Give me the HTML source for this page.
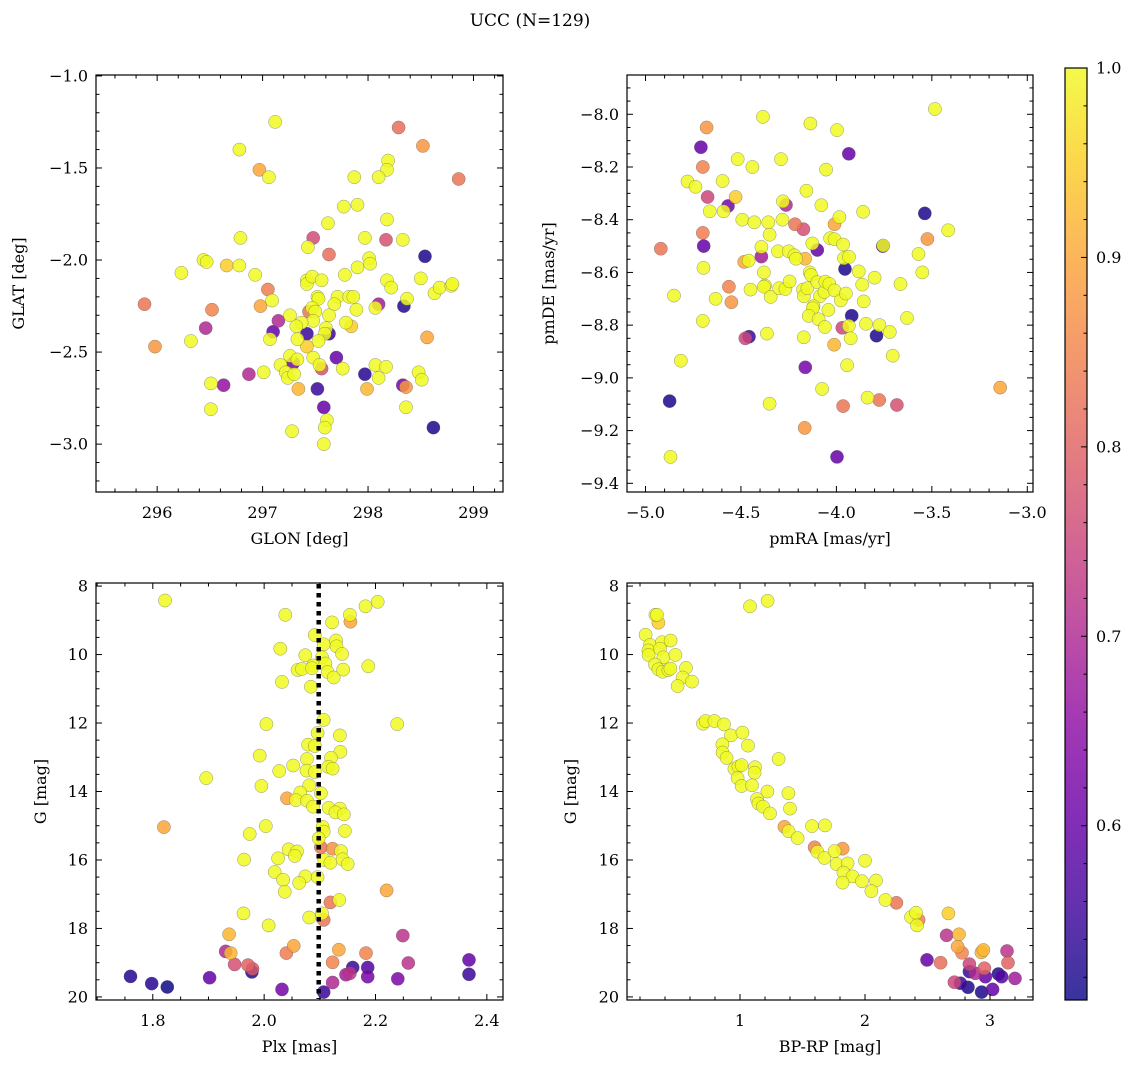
<!DOCTYPE html>
<html><head><meta charset="utf-8">
<style>
html,body{margin:0;padding:0;background:#fff;}
svg{display:block;font-family:"DejaVu Serif","Liberation Serif",serif;}
</style></head>
<body>
<svg id="fig" xmlns="http://www.w3.org/2000/svg" width="1136" height="1068" viewBox="0 0 1136 1068">
<defs>
<linearGradient id="plasmaGrad" x1="0" y1="1" x2="0" y2="0">
<stop offset="0" stop-color="#0d0887"/><stop offset="0.1" stop-color="#41049d"/><stop offset="0.2" stop-color="#6a00a8"/><stop offset="0.3" stop-color="#8f0da4"/><stop offset="0.4" stop-color="#b12a90"/><stop offset="0.5" stop-color="#cc4778"/><stop offset="0.6" stop-color="#e16462"/><stop offset="0.7" stop-color="#f2844b"/><stop offset="0.8" stop-color="#fca636"/><stop offset="0.9" stop-color="#fcce25"/><stop offset="1" stop-color="#f0f921"/>
</linearGradient>
</defs>
<text x="530" y="26" text-anchor="middle" font-size="17">UCC (N=129)</text>
</svg>
<script>
// ---- Panel 1: GLON vs GLAT ----
const tlGlon = [297.12,298.29,298.52,296.78,296.97,297.06,298.19,298.18,298.10,298.86,297.87,297.77,297.90,297.62,298.18,296.79,297.48,297.43,297.97,298.17,298.33,297.63,298.54,296.44,296.47,296.23,296.66,296.78,296.93,297.05,295.88,296.52,296.98,297.09,297.42,297.42,297.47,297.56,297.78,297.90,298.01,298.02,298.18,298.22,298.50,298.63,298.68,298.79,298.80,298.37,298.34,298.10,298.07,297.52,297.53,297.71,297.82,297.86,297.68,297.89,297.44,297.47,297.50,297.63,297.48,297.26,297.15,297.37,297.32,297.10,297.42,297.63,297.60,297.59,297.79,297.84,296.46,296.32,295.98,297.07,297.33,297.53,297.42,298.56,297.26,297.33,297.29,297.48,297.70,297.54,297.56,297.17,297.22,297.24,297.30,297.01,296.87,297.76,297.97,298.07,298.17,298.10,298.48,298.51,298.33,298.36,297.99,297.52,297.34,296.63,296.51,296.51,297.58,297.61,297.59,297.28,297.58,298.36,298.62];
const tlGlat = [-1.25,-1.28,-1.38,-1.40,-1.51,-1.55,-1.46,-1.51,-1.55,-1.56,-1.55,-1.71,-1.70,-1.80,-1.78,-1.88,-1.88,-1.93,-1.88,-1.89,-1.89,-1.97,-1.98,-2.00,-2.01,-2.07,-2.03,-2.03,-2.08,-2.16,-2.24,-2.27,-2.25,-2.22,-2.11,-2.13,-2.09,-2.11,-2.08,-2.04,-1.99,-2.02,-2.11,-2.15,-2.10,-2.18,-2.15,-2.14,-2.13,-2.21,-2.25,-2.24,-2.26,-2.20,-2.21,-2.20,-2.20,-2.20,-2.24,-2.27,-2.28,-2.26,-2.28,-2.30,-2.33,-2.30,-2.33,-2.34,-2.36,-2.39,-2.40,-2.40,-2.37,-2.40,-2.34,-2.36,-2.37,-2.44,-2.47,-2.43,-2.43,-2.44,-2.47,-2.42,-2.52,-2.54,-2.56,-2.53,-2.53,-2.57,-2.59,-2.57,-2.61,-2.64,-2.62,-2.61,-2.62,-2.59,-2.62,-2.57,-2.58,-2.64,-2.61,-2.65,-2.68,-2.69,-2.70,-2.70,-2.70,-2.68,-2.67,-2.81,-2.80,-2.87,-2.91,-2.93,-3.00,-2.80,-2.91];
const tlProb = [1,.82,.88,1,.9,1,1,1,1,.83,1,1,1,1,1,1,.76,1,1,.77,1,.82,.52,1,1,1,.95,1,1,.84,.83,.85,.9,1,1,1,1,1,1,1,1,1,1,1,1,1,1,1,1,1,.53,.68,1,1,1,1,1,1,1,1,.83,1,1,1,1,1,.7,1,1,.6,.55,.55,1,1,1,.95,.7,1,.88,1,1,1,.95,.9,1,1,.62,1,.6,1,.77,1,1,1,1,1,.7,1,.53,1,1,1,1,1,.62,.88,.92,.55,.92,.66,1,1,.6,1,1,1,1,1,.52];
const tlXTicks = [296,297,298,299];
const tlYTicks = [-3.0,-2.5,-2.0,-1.5,-1.0];

// ---- Panel 2: pmRA vs pmDE ----
const trPmra = [-3.484,-4.385,-4.68,-4.136,-3.997,-4.71,-3.935,-4.70,-4.517,-4.44,-4.29,-4.054,-4.78,-4.738,-4.596,-4.675,-4.528,-4.568,-4.663,-4.591,-4.28,-4.264,-4.157,-4.079,-3.86,-3.537,-3.414,-3.523,-4.493,-4.43,-4.357,-4.35,-4.283,-4.217,-4.173,-4.01,-3.984,-4.70,-4.695,-4.92,-4.393,-4.306,-4.25,-4.22,-4.212,-4.164,-4.126,-4.10,-4.033,-4.01,-3.965,-3.757,-3.755,-3.57,-4.483,-4.46,-4.393,-3.96,-3.934,-3.955,-4.696,-4.38,-3.55,-3.883,-3.80,-4.563,-4.55,-4.851,-4.633,-4.45,-4.374,-4.38,-4.344,-4.30,-4.267,-4.245,-4.175,-4.17,-4.152,-4.14,-4.133,-4.10,-4.086,-4.063,-4.058,-4.037,-4.01,-3.977,-3.95,-3.865,-3.857,-3.664,-4.12,-4.124,-4.042,-4.145,-4.093,-4.06,-4.70,-3.92,-3.969,-3.935,-3.925,-3.845,-3.774,-3.72,-3.63,-3.79,-4.458,-4.477,-4.364,-4.171,-4.012,-3.944,-3.705,-4.815,-4.163,-4.075,-3.837,-3.776,-3.683,-3.965,-3.142,-4.874,-4.35,-4.166,-4.869,-3.997];
const trPmde = [-7.98,-8.01,-8.05,-8.035,-8.06,-8.125,-8.15,-8.20,-8.17,-8.20,-8.17,-8.21,-8.255,-8.275,-8.253,-8.314,-8.314,-8.348,-8.368,-8.368,-8.33,-8.344,-8.29,-8.345,-8.37,-8.376,-8.44,-8.473,-8.40,-8.41,-8.41,-8.457,-8.40,-8.417,-8.436,-8.417,-8.39,-8.45,-8.50,-8.51,-8.503,-8.52,-8.52,-8.535,-8.548,-8.548,-8.49,-8.515,-8.47,-8.474,-8.494,-8.50,-8.498,-8.53,-8.56,-8.555,-8.54,-8.546,-8.541,-8.587,-8.583,-8.60,-8.60,-8.596,-8.62,-8.654,-8.713,-8.688,-8.70,-8.665,-8.65,-8.654,-8.693,-8.66,-8.663,-8.634,-8.665,-8.69,-8.66,-8.60,-8.61,-8.637,-8.69,-8.674,-8.635,-8.643,-8.668,-8.706,-8.68,-8.646,-8.71,-8.644,-8.728,-8.736,-8.742,-8.765,-8.778,-8.807,-8.784,-8.764,-8.81,-8.803,-8.85,-8.795,-8.80,-8.826,-8.773,-8.84,-8.844,-8.85,-8.832,-8.846,-8.874,-8.952,-8.916,-8.935,-8.96,-9.042,-9.075,-9.084,-9.103,-9.107,-9.037,-9.088,-9.098,-9.19,-9.30,-9.30];
const trProb = [1,1,.88,1,1,.6,.6,.85,1,1,1,1,1,1,1,.75,.95,.62,1,1,1,.7,1,1,1,.52,1,.88,1,1,1,1,1,.83,.77,.9,1,.84,.6,.83,1,1,1,1,1,.92,1,.6,1,1,1,.55,1,1,.9,1,.68,1,1,.52,1,1,1,1,1,.85,.88,1,1,1,1,1,1,1,1,1,1,1,1,1,1,1,1,1,1,1,1,1,1,1,1,1,1,1,1,1,1,1,1,.52,.75,1,1,1,1,1,1,.52,.55,.75,1,1,.92,1,1,1,.62,1,1,.83,.77,.83,.9,.52,1,.88,1,.6];
const trXTicks = [-5.0,-4.5,-4.0,-3.5,-3.0];
const trYTicks = [-9.4,-9.2,-9.0,-8.8,-8.6,-8.4,-8.2,-8.0];

// ---- Panel 3: Plx vs G ----
const blPlx = [1.822,2.038,2.154,2.155,2.182,2.204,2.122,2.091,2.107,2.129,2.130,2.140,2.029,2.074,2.104,2.088,2.060,2.068,2.086,2.110,2.114,2.125,2.142,2.187,2.032,2.084,2.004,2.239,2.107,2.096,2.136,2.079,2.091,1.992,2.137,2.120,2.077,2.052,2.027,2.076,2.091,2.115,2.123,1.896,1.995,2.081,2.065,2.102,2.041,2.057,2.077,2.088,2.116,2.136,2.128,2.143,1.820,2.003,1.974,2.105,2.107,2.145,2.098,2.102,2.123,2.138,2.044,2.059,2.055,2.025,1.964,2.108,2.119,2.141,2.150,2.019,2.034,2.074,2.063,2.096,2.037,2.220,2.119,2.135,1.963,2.104,2.081,2.107,2.008,1.937,2.249,2.053,2.134,2.183,2.040,1.931,1.940,2.368,2.259,2.123,1.947,1.971,1.979,1.978,1.760,1.798,1.826,1.902,2.032,2.107,2.123,2.147,2.154,2.159,2.186,2.186,2.240,2.368];
const blG = [8.42,8.84,8.84,9.04,8.59,8.46,9.06,9.43,9.70,9.59,9.76,9.98,9.83,10.02,10.08,10.32,10.45,10.42,10.40,10.26,10.51,10.67,10.44,10.34,10.80,10.94,12.03,12.03,11.91,12.29,12.36,12.63,12.67,12.95,12.84,13.02,13.05,13.24,13.40,13.39,13.43,13.28,13.33,13.61,13.84,13.82,14.03,14.05,14.20,14.25,14.27,14.44,14.48,14.50,14.61,14.67,15.04,15.01,15.24,15.03,15.17,15.15,15.37,15.63,15.67,15.74,15.69,15.75,15.88,15.95,15.99,16.00,16.08,15.98,16.12,16.35,16.58,16.48,16.67,16.50,16.93,16.89,17.24,17.17,17.56,17.56,17.68,17.75,17.91,18.17,18.21,18.51,18.62,18.72,18.72,18.67,18.72,18.92,19.01,18.99,19.05,19.07,19.18,19.27,19.40,19.61,19.71,19.44,19.78,19.86,19.58,19.35,19.31,19.14,19.14,19.41,19.47,19.34];
const blProb = [1,1,1,.9,1,1,1,1,1,1,1,1,1,1,1,1,1,1,1,1,1,1,1,1,1,1,1,1,1,1,1,1,1,1,1,1,1,1,1,1,1,1,1,1,1,1,1,1,.9,1,1,1,1,1,1,1,.9,1,1,1,1,1,1,.83,.87,1,1,1,1,1,1,1,1,1,1,1,1,1,1,1,1,.9,.83,1,1,1,1,.83,1,.92,.72,.9,.9,.85,.84,.7,.92,.6,.72,.85,.77,.8,.78,.53,.53,.53,.5,.6,.62,.55,.7,.68,.72,.55,.58,.62,.63,.55];
const blXTicks = [1.8,2.0,2.2,2.4];
const gTicks = [8,10,12,14,16,18,20];
const plxRef = 2.098;

// ---- Panel 4: BP-RP vs G ----
const brColor = [1.08,1.221,0.323,0.336,0.347,0.245,0.28,0.267,0.269,0.376,0.445,0.36,0.387,0.483,0.32,0.347,0.381,0.427,0.443,0.568,0.541,0.616,0.501,0.704,0.725,0.795,0.872,0.928,1.019,1.064,0.859,0.861,0.893,1.309,0.955,0.987,1.013,1.12,1.117,0.981,1.013,1.096,1.219,1.387,1.136,1.147,1.184,1.24,1.40,1.355,1.389,1.461,1.576,1.68,1.597,1.619,1.675,1.757,1.821,1.773,1.861,2.00,1.827,1.901,1.976,1.821,2.088,2.051,2.163,2.251,2.429,2.368,2.408,2.416,2.667,2.653,2.752,2.741,2.776,2.931,2.947,3.136,2.496,2.605,2.835,3.144,2.835,2.955,2.883,2.963,3.067,3.093,3.20,2.715,2.763,2.824,2.933,3.021];
const brG = [8.59,8.43,8.84,8.84,9.07,9.42,9.72,9.88,10.01,9.64,9.59,9.83,10.08,10.01,10.29,10.43,10.50,10.45,10.41,10.39,10.67,10.79,10.92,12.02,11.94,11.94,12.04,12.36,12.28,12.66,12.62,12.86,13.02,13.05,13.34,13.27,13.23,13.29,13.45,13.61,13.84,13.82,14.00,14.05,14.22,14.35,14.44,14.64,14.50,15.03,15.16,15.36,15.01,14.99,15.63,15.76,15.94,15.74,15.67,16.12,16.10,16.02,16.37,16.48,16.62,16.66,16.60,16.91,17.17,17.25,17.75,17.67,17.54,17.91,17.56,18.20,18.17,18.53,18.71,18.70,18.63,18.66,18.92,19.00,19.04,19.00,19.26,19.16,19.31,19.41,19.33,19.41,19.46,19.57,19.60,19.72,19.86,19.78];
const brProb = [1,1,1,1,.95,1,1,1,1,1,1,1,1,1,1,1,1,1,1,1,1,1,1,1,1,1,1,1,1,1,1,1,1,1,1,1,1,1,1,1,1,1,1,1,1,1,1,1,1,.9,1,1,1,1,.85,1,1,1,.88,1,1,1,1,1,1,1,1,1,1,.83,.84,1,1,1,.95,.72,.92,.9,.85,.92,.92,.72,.6,.82,.75,.8,.55,.8,.7,.6,.53,.58,.68,.75,.55,.52,.52,.6];
const brXTicks = [1,2,3];

// ---- Colorbar ----
const cbTicks = [0.6,0.7,0.8,0.9,1.0];
const cbMin = 0.508, cbMax = 1.0;

const NS = "http://www.w3.org/2000/svg";
const svg = document.getElementById('fig');
const stops = [[13,8,135],[65,4,157],[106,0,168],[143,13,164],[177,42,144],[204,71,120],[225,100,98],[242,132,75],[252,166,54],[252,206,37],[240,249,33]];
function plasma(p){
  let t = (p - cbMin)/(cbMax - cbMin); t = Math.max(0, Math.min(1, t));
  const f = t*10, i = Math.min(9, Math.floor(f)), r = f - i;
  const a = stops[i], b = stops[i+1];
  return 'rgb(' + [0,1,2].map(k => Math.round(a[k] + (b[k]-a[k])*r)).join(',') + ')';
}
function mk(tag, attrs, parent){
  const e = document.createElementNS(NS, tag);
  for (const k in attrs) e.setAttribute(k, attrs[k]);
  (parent || svg).appendChild(e);
  return e;
}
function fmt(v, d){ const s = v.toFixed(d); return s.replace('-', '\u2212'); }
function range(a, b, s){ const r=[]; for(let v=a; v<=b+1e-9; v+=s) r.push(+v.toFixed(6)); return r; }

function panel(name, box, xr, yr, invY, xTicks, yTicks, xMinorStep, yMinorStep, xDec, yDec, xLabel, yLabel, yLabelX, xs, ys, ps){
  const g = mk('g', {});
  
  
  const sx = v => box.x0 + (v - xr[0])/(xr[1]-xr[0])*(box.x1-box.x0);
  const sy = v => invY ? box.y0 + (v - yr[0])/(yr[1]-yr[0])*(box.y1-box.y0)
                       : box.y1 - (v - yr[0])/(yr[1]-yr[0])*(box.y1-box.y0);
  const pg = mk('g', {}, g);
  
  
  const order = xs.map((_, i) => i).sort((a, b) => ps[a] - ps[b]);
  for (const i of order){
    const c = mk('circle', {cx: sx(xs[i]).toFixed(1), cy: sy(ys[i]).toFixed(1), r: 6.6, fill: plasma(ps[i]), 'fill-opacity': 0.85, stroke: '#555', 'stroke-opacity': 0.6, 'stroke-width': 0.5}, pg);
    
    
  }
  const frame = mk('rect', {x: box.x0, y: box.y0, width: box.x1-box.x0, height: box.y1-box.y0, fill: 'none', stroke: '#000', 'stroke-width': 1.2}, g);
  
  
  const tg = mk('g', {stroke: '#000', 'stroke-width': 1}, g);
  
  
  const lo = Math.min(xr[0], xr[1]), hi = Math.max(xr[0], xr[1]);
  for (const v of range(Math.ceil(lo/xMinorStep)*xMinorStep, hi, xMinorStep)){
    const major = xTicks.some(t => Math.abs(t - v) < 1e-6); const L = major ? 6 : 3.5; const X = sx(v);
    mk('line', {x1: X, x2: X, y1: box.y1, y2: box.y1 - L}, tg);
    mk('line', {x1: X, x2: X, y1: box.y0, y2: box.y0 + L}, tg);
  }
  const ylo = Math.min(yr[0], yr[1]), yhi = Math.max(yr[0], yr[1]);
  for (const v of range(Math.ceil(ylo/yMinorStep)*yMinorStep, yhi, yMinorStep)){
    const major = yTicks.some(t => Math.abs(t - v) < 1e-6); const L = major ? 6 : 3.5; const Y = sy(v);
    mk('line', {x1: box.x0, x2: box.x0 + L, y1: Y, y2: Y}, tg);
    mk('line', {x1: box.x1, x2: box.x1 - L, y1: Y, y2: Y}, tg);
  }
  for (const v of xTicks){
    const t = mk('text', {x: sx(v), y: box.y1 + 26, 'text-anchor': 'middle', 'font-size': 16}, g);
    
    
    t.textContent = fmt(v, xDec);
  }
  for (const v of yTicks){
    const t = mk('text', {x: box.x0 - 8, y: sy(v) + 5.5, 'text-anchor': 'end', 'font-size': 16}, g);
    
    
    t.textContent = fmt(v, yDec);
  }
  const xl = mk('text', {x: (box.x0 + box.x1)/2, y: box.y1 + 52, 'text-anchor': 'middle', 'font-size': 16}, g);
  
  
  xl.textContent = xLabel;
  const cy = (box.y0 + box.y1)/2;
  const yl = mk('text', {x: yLabelX, y: cy, 'text-anchor': 'middle', 'font-size': 16, transform: 'rotate(-90 ' + yLabelX + ' ' + cy + ')'}, g);
  
  
  yl.textContent = yLabel;
  return {sx, sy, g};
}

panel('glon-glat-panel', {x0:96,x1:503,y0:75,y1:492}, [295.42,299.28], [-3.26,-0.995], false, tlXTicks, tlYTicks, 0.2, 0.1, 0, 1, 'GLON [deg]', 'GLAT [deg]', 24, tlGlon, tlGlat, tlProb);
panel('pm-panel', {x0:627,x1:1033,y0:75,y1:492}, [-5.097,-2.97], [-9.433,-7.851], false, trXTicks, trYTicks, 0.1, 0.05, 1, 1, 'pmRA [mas/yr]', 'pmDE [mas/yr]', 554, trPmra, trPmde, trProb);
const bl = panel('plx-g-panel', {x0:96,x1:503,y0:583,y1:1000}, [1.698,2.429], [7.91,20.09], true, blXTicks, gTicks, 0.05, 0.5, 1, 0, 'Plx [mas]', 'G [mag]', 46, blPlx, blG, blProb);
panel('cmd-panel', {x0:627,x1:1033,y0:583,y1:1000}, [0.096,3.344], [7.91,20.09], true, brXTicks, gTicks, 0.2, 0.5, 0, 0, 'BP-RP [mag]', 'G [mag]', 576, brColor, brG, brProb);

const ref = mk('line', {x1: bl.sx(plxRef), x2: bl.sx(plxRef), y1: 584, y2: 999, stroke: '#000', 'stroke-width': 4.5, 'stroke-dasharray': '4.5,4.5'}, bl.g);



// colorbar
const cb = {x0:1065, x1:1087, y0:68, y1:1000};
const cbg = mk('g', {});


const cbr = mk('rect', {x: cb.x0, y: cb.y0, width: cb.x1-cb.x0, height: cb.y1-cb.y0, fill: 'url(#plasmaGrad)', 'fill-opacity': 0.82, stroke: '#000', 'stroke-width': 1.2}, cbg);


const cby = v => cb.y1 - (v - cbMin)/(cbMax - cbMin)*(cb.y1 - cb.y0);
for (const v of range(0.52, 1.0, 0.02)){
  const major = cbTicks.some(t => Math.abs(t - v) < 1e-6); const L = major ? 6 : 3.5;
  mk('line', {x1: cb.x1, x2: cb.x1 - L, y1: cby(v), y2: cby(v), stroke: '#000', 'stroke-width': 1}, cbg);
}
for (const v of cbTicks){
  const t = mk('text', {x: cb.x1 + 9, y: cby(v) + 5.5, 'font-size': 16}, cbg);
  
  
  t.textContent = v.toFixed(1);
}
</script>
</body></html>
